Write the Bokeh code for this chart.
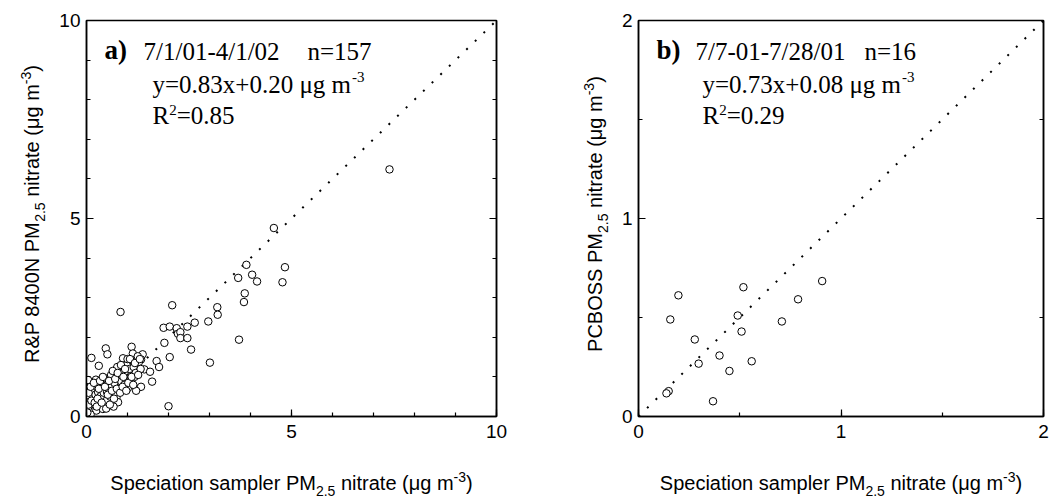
import math
from bokeh.plotting import figure
from bokeh.models import Range1d, LinearAxis, SingleIntervalTicker, Label, ColumnDataSource
from bokeh.layouts import row, column
from bokeh.embed import file_html
from bokeh.resources import INLINE

# ---------------- data ----------------
# panel a: speciation sampler (x) vs R&P 8400N (y), ug m-3
spec_a = [7.39, 4.57, 3.90, 4.84, 3.70, 4.04, 4.16, 4.78, 3.86, 3.84, 3.19, 3.20, 2.97, 3.72,
          3.01, 2.09, 0.83, 2.64, 2.46, 1.88, 2.03, 2.20, 2.23, 2.29, 2.29, 2.46, 2.55, 2.00,
          0.12, 0.30, 0.47, 0.51, 0.89, 1.10, 1.13, 1.37, 1.33, 1.23, 1.05, 0.89, 0.65, 0.81,
          1.03, 1.21, 1.41, 1.55, 1.71, 1.77, 1.90, 2.03, 1.60, 1.33, 1.07, 1.17, 0.93, 0.85,
          0.69, 0.56, 0.44, 0.23, 0.04, 0.52, 0.77, 1.01, 0.85, 0.65, 0.36, 0.16, 0.16, 0.28,
          0.44, 0.60, 0.73, 0.60, 0.77, 0.66, 0.43, 0.31, 0.16, 0.08, 0.24, 0.40, 0.06, 0.06,
          0.10, 0.04, 0.32, 0.48, 1.21,
          0.02, 0.05, 0.12, 0.20, 0.22, 0.28, 0.35, 0.38, 0.42, 0.50, 0.55, 0.58, 0.62, 0.68,
          0.70, 0.72, 0.78, 0.80, 0.85, 0.90, 0.92, 0.96, 0.98, 1.00, 1.05, 1.08, 1.12, 1.15,
          1.20, 1.25, 1.28, 1.32, 1.00, 0.75, 0.60, 0.48,
          0.05, 0.10, 0.18, 0.25, 0.27, 0.30, 0.33, 0.37, 0.40, 0.45, 0.52, 0.55, 0.57, 0.62,
          0.64, 0.67, 0.70, 0.74, 0.76, 0.82, 0.84, 0.88, 0.90, 0.94, 0.97, 1.02, 1.06, 1.10,
          1.14, 1.18, 1.26, 1.30]
rp_a = [6.24, 4.76, 3.83, 3.77, 3.50, 3.58, 3.41, 3.39, 3.11, 2.89, 2.76, 2.57, 2.40, 1.94,
        1.36, 2.81, 2.64, 2.37, 2.27, 2.24, 2.27, 2.23, 2.09, 2.13, 1.98, 1.98, 1.69, 0.26,
        1.48, 1.28, 1.72, 1.57, 1.47, 1.76, 1.59, 1.57, 1.44, 1.32, 1.33, 1.25, 1.11, 1.15,
        1.11, 1.19, 1.19, 1.13, 1.40, 1.25, 1.86, 1.50, 0.88, 0.75, 0.86, 1.00, 0.90, 1.03,
        0.94, 0.94, 0.97, 0.93, 0.92, 0.82, 0.82, 0.72, 0.67, 0.65, 0.67, 0.61, 0.43, 0.50,
        0.48, 0.54, 0.48, 0.40, 0.36, 0.25, 0.30, 0.30, 0.25, 0.17, 0.15, 0.19, 0.36, 0.53,
        0.05, 0.23, 0.40, 0.40, 0.65,
        0.10, 0.30, 0.40, 0.35, 0.55, 0.62, 0.52, 0.78, 0.60, 0.62, 0.70, 0.50, 0.78, 0.85,
        0.60, 1.02, 0.95, 0.70, 0.88, 1.12, 0.80, 1.05, 1.30, 0.95, 1.20, 1.02, 1.42, 1.25,
        1.10, 1.52, 1.38, 1.20, 1.45, 1.25, 1.05, 0.20,
        0.60, 0.75, 0.85, 0.25, 0.45, 0.70, 0.90, 0.35, 1.00, 0.75, 0.55, 0.90, 0.30, 0.65,
        1.15, 0.45, 0.95, 0.70, 1.10, 0.60, 1.30, 0.75, 1.00, 1.20, 0.65, 0.85, 1.45, 1.00,
        0.80, 1.35, 1.05, 1.45]

# panel b: speciation sampler (x) vs PCBOSS (y), ug m-3
spec_b = [0.197, 0.157, 0.518, 0.907, 0.788, 0.490, 0.708, 0.509, 0.278, 0.400, 0.297, 0.559,
          0.449, 0.149, 0.138, 0.368]
pcboss_b = [0.612, 0.490, 0.653, 0.684, 0.592, 0.510, 0.480, 0.429, 0.389, 0.308, 0.267, 0.279,
            0.230, 0.128, 0.117, 0.077]

range_a = [0, 10]
range_b = [0, 2]
one_to_one_a = [0, 10]
one_to_one_b = [0, 2]
tick_major_a = 5
tick_major_b = 1

# ---------------- text metrics (Arial / Times compatible) ----------------
SANS = {' ': 278, 'S': 667, 'p': 556, 'e': 556, 'c': 500, 'i': 222, 'a': 556, 't': 278, 'o': 556,
        'n': 556, 's': 500, 'm': 833, 'l': 222, 'r': 333, 'P': 667, 'M': 833, '(': 333, ')': 333,
        'μ': 576, 'g': 556, 'R': 722, '&': 667, 'N': 722, 'C': 722, 'B': 667, 'O': 778, '.': 278,
        '-': 333}
SERIF = {' ': 250, '/': 278, '-': 333, 'n': 500, '=': 564, 'y': 500, '.': 250, 'x': 500, '+': 564,
         'μ': 576, 'g': 500, 'm': 778, 'R': 667, 'a': 500, ')': 333, 'b': 556}
SANS_F = "Liberation Sans"
SERIF_F = "Liberation Serif"
MID_K = 0.34     # label anchor sits ~0.34 em above the baseline
H_TOP = 446      # height of the plot row
H_XLAB = 53      # height of the x-label strip


def tw(s, size, table, default):
    return sum(table.get(ch, default) for ch in s) * size / 1000.0


def put(fig, ax, ay, dx, dy, text, font, size, style="normal", angle=0.0):
    # dx, dy give the wanted baseline start; correct for the label anchor
    if angle == 0.0:
        dy = dy + MID_K * size
    else:
        dx = dx - MID_K * size
    fig.add_layout(Label(x=ax, y=ay, x_offset=dx, y_offset=dy, text=text, text_font=font,
                         text_font_size=f"{size}px", text_font_style=style, text_color="black",
                         angle=angle, text_align="left", text_baseline="alphabetic"))


def seq_width(pieces, table, default):
    return sum(tw(t, s, table, default) for t, s, r, st in pieces)


def hseq(fig, ax, ay, dx0, dy0, pieces, font, table, default):
    x = dx0
    for text, size, rise, style in pieces:
        lead = len(text) - len(text.lstrip(" "))
        x += tw(" " * lead, size, table, default)
        body = text.lstrip(" ")
        put(fig, ax, ay, x, dy0 + rise, body, font, size, style)
        x += tw(body, size, table, default)


def vseq(fig, ax, ay, dx0, dy0, pieces, font, table, default):
    y = dy0
    for text, size, rise, style in pieces:
        lead = len(text) - len(text.lstrip(" "))
        y += tw(" " * lead, size, table, default)
        body = text.lstrip(" ")
        put(fig, ax, ay, dx0 - rise, y, body, font, size, style, angle=math.pi / 2)
        y += tw(body, size, table, default)


def label_fig(w, h):
    f = figure(width=w, height=h, x_range=Range1d(0, w), y_range=Range1d(0, h),
               output_backend="svg", toolbar_location=None, min_border=0,
               x_axis_type=None, y_axis_type=None, outline_line_color=None,
               background_fill_color="white", border_fill_color="white")
    return f


def axis_pieces(main):
    return [(main, 20, 0, "normal"), ("2.5", 14, -6, "normal"),
            (" nitrate (μg m", 20, 0, "normal"), ("-3", 14, 8, "normal"), (")", 20, 0, "normal")]


def make_main(xs, ys, rng, diag, major, width, left, right,
              tag, line1, n_text, n_dx, eq_text, r2_text, tag_dx, line1_dx, eq_dx):
    p = figure(width=width, height=H_TOP, x_range=Range1d(*rng), y_range=Range1d(*rng),
               output_backend="svg", toolbar_location=None,
               min_border_left=left, min_border_right=right, min_border_top=20,
               min_border_bottom=30, background_fill_color="white", border_fill_color="white")
    p.outline_line_color = "black"
    p.outline_line_width = 1.5
    p.xgrid.visible = False
    p.ygrid.visible = False
    p.add_layout(LinearAxis(), "right")
    for ax in p.axis:
        ax.ticker = SingleIntervalTicker(interval=major, num_minor_ticks=5 if major == 5 else 2)
        ax.axis_line_color = "black"
        ax.axis_line_width = 1.5
        ax.major_tick_line_color = "black"
        ax.minor_tick_line_color = "black"
        ax.major_tick_line_width = 1.2
        ax.minor_tick_line_width = 1.2
        ax.major_tick_in = 7
        ax.major_tick_out = 0
        ax.minor_tick_in = 4
        ax.minor_tick_out = 0
        ax.major_label_text_font = SANS_F
        ax.major_label_text_font_size = "19px"
        ax.major_label_text_color = "black"
    p.xaxis[0].major_label_standoff = 8
    p.yaxis[0].major_label_standoff = 6
    p.yaxis[1].major_label_text_color = None
    p.yaxis[1].major_label_standoff = 0

    p.line(diag, diag, line_color="black", line_width=2, line_dash="2 10")
    src = ColumnDataSource(dict(x=xs, y=ys))
    p.scatter("x", "y", source=src, marker="circle", size=7.5, fill_color="white",
              line_color="black", line_width=1)

    lo, hi = rng
    put(p, lo, hi, tag_dx, -39, tag, SERIF_F, 27, "bold")
    put(p, lo, hi, line1_dx, -39, line1, SERIF_F, 25)
    put(p, lo, hi, n_dx, -39, n_text, SERIF_F, 25)
    hseq(p, lo, hi, eq_dx, -72, [(eq_text, 25, 0, "normal"), ("-3", 15, 10, "normal")],
         SERIF_F, SERIF, 500)
    hseq(p, lo, hi, eq_dx, -103, [("R", 25, 0, "normal"), ("2", 15, 8, "normal"),
                                  (r2_text, 25, 0, "normal")], SERIF_F, SERIF, 500)
    return p


def make_panel(total_w, ylab_w, ylab_base, frame_left, frame_right_pad, main_kwargs, ylabel_main):
    # y label strip
    yl = label_fig(ylab_w, H_TOP)
    pieces = axis_pieces(ylabel_main)
    w = seq_width(pieces, SANS, 556)
    frame_mid_from_bottom = H_TOP - (20 + 396 / 2)
    vseq(yl, ylab_base, frame_mid_from_bottom, 0, -w / 2, pieces, SANS_F, SANS, 556)
    # main plot
    main_w = total_w - ylab_w
    p = make_main(width=main_w, left=frame_left - ylab_w, right=frame_right_pad, **main_kwargs)
    # x label strip
    xl = label_fig(total_w, H_XLAB)
    frame_w = total_w - frame_left - frame_right_pad
    xc = frame_left + frame_w / 2
    pieces = axis_pieces("Speciation sampler PM")
    w = seq_width(pieces, SANS, 556)
    hseq(xl, xc, 0, -w / 2, 10, pieces, SANS_F, SANS, 556)
    return column(row(yl, p), xl)


panel_a = make_panel(530, 50, 38, 86, 34,
                     dict(xs=spec_a, ys=rp_a, rng=range_a, diag=one_to_one_a, major=tick_major_a,
                          tag="a)", line1="7/1/01-4/1/02", n_text="n=157", n_dx=221,
                          eq_text="y=0.83x+0.20 μg m", r2_text="=0.85",
                          tag_dx=18, line1_dx=57, eq_dx=66),
                     "R&P 8400N PM")
panel_b = make_panel(529, 80, 71, 108, 16,
                     dict(xs=spec_b, ys=pcboss_b, rng=range_b, diag=one_to_one_b, major=tick_major_b,
                          tag="b)", line1="7/7-01-7/28/01", n_text="n=16", n_dx=226,
                          eq_text="y=0.73x+0.08 μg m", r2_text="=0.29",
                          tag_dx=18, line1_dx=57, eq_dx=64),
                     "PCBOSS PM")

layout = row(panel_a, panel_b)
open("out.html", "w").write(file_html(layout, INLINE))
